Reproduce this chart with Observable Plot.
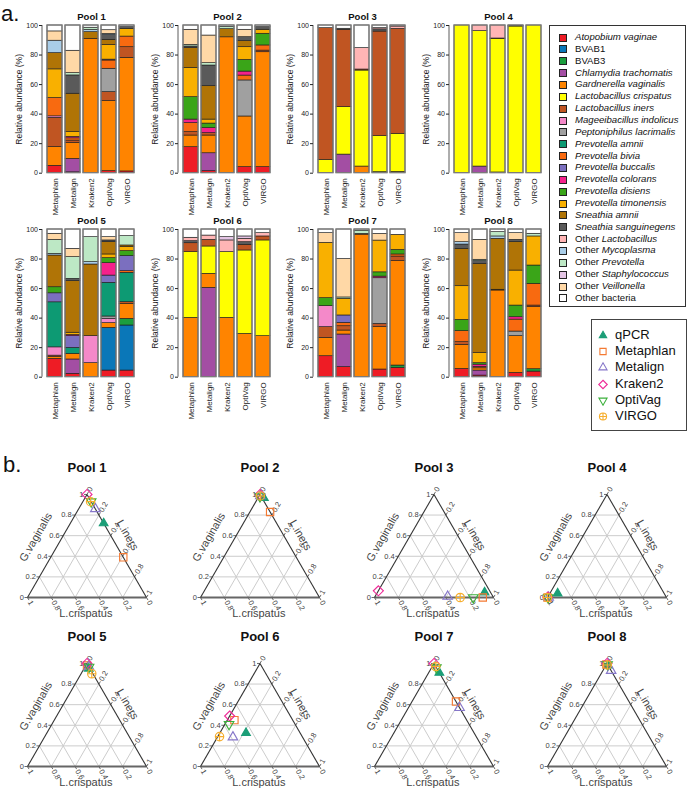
<!DOCTYPE html>
<html><head><meta charset="utf-8">
<script src="https://cdn.jsdelivr.net/npm/d3@7"></script>
<script src="https://cdn.jsdelivr.net/npm/@observablehq/plot@0.6"></script>
<style>
body{margin:0;background:#fff;font-family:'Liberation Sans',Arial,Helvetica,sans-serif;}
#root{position:relative;width:688px;height:788px;overflow:hidden;background:#fff;}
.lg1{position:absolute;left:549px;top:25px;width:137px;height:282px;border:1px solid #333;box-sizing:border-box;}
.lg1 .it{position:absolute;left:0;height:12px;font-size:9.6px;line-height:12px;white-space:nowrap;color:#111;}
.lg1 .sw{position:absolute;left:9px;top:2.5px;width:6px;height:6px;border:1px solid #222;}
.lg1 .tx{position:absolute;left:25px;top:0;}
.lg2{position:absolute;left:591px;top:319px;width:96px;height:112px;border:1px solid #444;box-sizing:border-box;}
.lg2 .it{position:absolute;left:0;height:16px;font-size:13px;line-height:16px;white-space:nowrap;color:#111;}
.lg2 svg{position:absolute;left:5px;top:2px;}
.lg2 .tx{position:absolute;left:23px;top:0;}
.tag{position:absolute;font-size:22px;color:#111;}
</style></head><body><div id="root"></div>
<script>
const FONT = "'Liberation Sans', Arial, Helvetica, sans-serif";

// ---------- data: part a ----------
const tools = ["Metaphlan","Metalign","Kraken2","OptiVag","VIRGO"];
const speciesCodes = ["Av","B1","B3","Ct","Gv","Lc","Li","Mi","Pl","Pa","Pbi","Pbu","Pc","Pd","Pt","Sa","Ss","oL","oM","oP","oS","oV","oB"];
const speciesNames = ["Atopobium vaginae","BVAB1","BVAB3","Chlamydia trachomatis","Gardnerella vaginalis","Lactobacillus crispatus","Lactobacillus iners","Mageeibacillus indolicus","Peptoniphilus lacrimalis","Prevotella amnii","Prevotella bivia","Prevotella buccalis","Prevotella colorans","Prevotella disiens","Prevotella timonensis","Sneathia amnii","Sneathia sanguinegens","Other Lactobacillus","Other Mycoplasma","Other Prevotella","Other Staphylococcus","Other Veillonella","Other bacteria"];
const speciesColors = ["#ee1c25","#0a77b8","#1b9e3e","#a34ea3","#ff8400","#ffff00","#c05522","#f489c9","#a0a0a0","#0d9a73","#f86a10","#7b6fbf","#f5218b","#3aa518","#f9b000","#b07406","#5a5a5a","#ffb5b5","#a9cde8","#bde8c5","#e4c4e4","#ffd8a6","#ffffff"];

// each pool: one list per tool (Metaphlan, Metalign, Kraken2, OptiVag, VIRGO) of [species, %]; "Other bacteria" fills the rest
const pool1 = [
  [["Av",5],["Gv",12.7],["Li",19.8],["Mi",1],["Pbi",12.4],["Pt",19.4],["Sa",11],["oM",8.4],["oV",6.3]],
  [["Av",0.6],["Ct",9.1],["Gv",10.8],["Li",1.6],["Pbi",1.5],["Pc",1],["Pt",3.2],["Sa",26],["Ss",12.4],["oP",1.6],["oV",15.1]],
  [["Gv",91],["Sa",4.5],["oM",1.5],["oP",1.5]],
  [["Av",1.4],["Gv",47.4],["Li",6.1],["Pl",15.8],["Pbi",5.6],["Pbu",0.6],["Pt",10],["Sa",3.4],["Ss",3.2],["oM",0.8],["oV",2.5]],
  [["Av",1.2],["Gv",76.9],["Li",7.2],["Pbi",7.2],["Pt",5.2],["Ss",1.2]]
];
const pool2 = [
  [["Av",17.6],["Gv",7.9],["Li",2.3],["Pbi",6.1],["Pc",2.4],["Pd",15.2],["Pt",19.8],["Sa",13.4],["Ss",1.1],["oP",1.1],["oV",10.2]],
  [["Av",1.4],["Ct",12.1],["Gv",12],["Li",1.6],["Pc",3.4],["Pd",3.1],["Pt",2.7],["Sa",22.6],["Ss",14],["oP",1.6],["oV",18.7]],
  [["Gv",92],["Sa",5.5],["oP",1.5]],
  [["Av",4.1],["Gv",34.3],["Pl",24.4],["Pbi",3.3],["Pc",2.7],["Pd",7.9],["Pt",8.6],["Sa",4.1],["Ss",2.7],["oV",5]],
  [["Av",4.1],["Gv",77.8],["Li",1.1],["Pbi",3.5],["Pd",7.9],["Pt",2.7],["Ss",1.8]]
];
const pool3 = [
  [["Lc",9],["Li",89.2]],
  [["Ct",12.6],["Lc",32.1],["Li",52.4],["Ss",0.7]],
  [["Gv",4.5],["Lc",65],["Li",0.7],["oL",14.5]],
  [["Ct",0.7],["Lc",24.4],["Li",70.8],["Ss",1.5],["oL",0.8]],
  [["Gv",0.9],["Lc",25.7],["Li",71.1],["oL",1.6]]
];
const pool4 = [
  [["Lc",100]],
  [["Ct",4.5],["Lc",91.7],["oL",3.8]],
  [["Gv",0.5],["Lc",90.5],["Li",0.2],["oL",8.8]],
  [["Lc",99.3],["Li",0.5]],
  [["Lc",100]]
];
const pool5 = [
  [["Av",12.4],["Gv",1.2],["Li",1],["Mi",5.6],["Pa",30.5],["Pbu",6.1],["Pd",4.1],["Sa",21.5],["oM",1.1],["oP",9.5],["oV",4.1]],
  [["Av",2.3],["Ct",9.7],["Gv",3.8],["Pa",4],["Pbu",8],["Pc",0.8],["Pt",1.5],["Sa",34.9],["Ss",1.6],["oP",14.7],["oV",5.6]],
  [["Gv",9.5],["Mi",18.3],["Sa",48.5],["oM",1.6],["oP",16.9]],
  [["Av",4.5],["B1",28.9],["Gv",3.2],["Mi",2.9],["Pl",1.6],["Pa",22.8],["Pbu",4.9],["Pc",8.4],["Pd",3.4],["Pt",2.5],["Sa",8.3],["Ss",1.2],["oV",2.2]],
  [["Av",4.5],["B1",30.5],["B3",4.5],["Gv",10.2],["Li",1.1],["Pa",19.9],["Pbi",1.1],["Pbu",10.2],["Pd",3.4],["Pt",2.7],["Sa",1.1],["oP",6.3]]
];
const pool6 = [
  [["Gv",40.2],["Lc",44.5],["Li",6],["Ss",1.4],["oL",2.3]],
  [["Ct",60.5],["Gv",9.5],["Lc",18.5],["Li",4.5],["oL",2.9]],
  [["Gv",40.2],["Lc",44.5],["oL",7.9],["oS",2.2]],
  [["Gv",29.3],["Lc",56.5],["Li",3.8],["Ss",1.8],["oL",2.3],["oS",1.6]],
  [["Gv",27.8],["Lc",64.8],["Li",2.7],["oL",2.2]]
];
const pool7 = [
  [["Av",14.2],["Gv",12.4],["Li",7.3],["Mi",14.2],["Pd",5.4],["Pt",37.5],["oV",6.5]],
  [["Av",6.8],["Ct",22.1],["Gv",2.7],["Li",2.9],["Pbi",2.3],["Pbu",5],["Pt",11.3],["oP",0.9],["oV",26]],
  [["Gv",96.5],["Li",0.5],["oP",2.2]],
  [["Av",5.2],["Gv",28.7],["Li",2.2],["Pl",30.9],["Pc",1.1],["Pd",2.9],["Pt",21.5],["oV",4.5]],
  [["Av",6.3],["B3",1.6],["Gv",70.7],["Li",3.1],["Pbi",1.4],["Pd",3.1],["Pt",10.2]]
];
const pool8 = [
  [["Av",5.6],["Gv",16.3],["Li",1.8],["Pbi",7.5],["Pd",7.6],["Pt",22.8],["Sa",25.3],["Ss",2.9],["oM",1.6],["oV",6.1]],
  [["Av",1.1],["Ct",3.4],["Gv",1.5],["Li",1],["Pc",1.5],["Pd",1],["Pt",6.8],["Sa",60.4],["Ss",1.9],["oP",0.9],["oV",13.5]],
  [["Gv",58.7],["Li",0.5],["Sa",34.5],["oM",1.6],["oP",2.9]],
  [["Av",2.9],["Gv",24.9],["Pl",3.1],["Pbi",8.1],["Pc",1.6],["Pd",7.9],["Pt",23.7],["Sa",19.2],["Ss",1.6],["oV",4.5]],
  [["Av",3.8],["B3",1.6],["Gv",42],["Li",1.1],["Pbi",14.7],["Pd",12.4],["Pt",19.7],["oP",1.8]]
];
const pools = [pool1,pool2,pool3,pool4,pool5,pool6,pool7,pool8];
const poolTitles = ["Pool 1","Pool 2","Pool 3","Pool 4","Pool 5","Pool 6","Pool 7","Pool 8"];

// ---------- data: part b (fractions of G.vaginalis and L.iners; L.crispatus is the remainder) ----------
const methods = ["qPCR","Metaphlan","Metalign","Kraken2","OptiVag","VIRGO"];
const methodColors = ["#1b9e77","#f47a33","#8677c9","#ee2a97","#3bb03b","#f6ae2d"];
const gvQPCR      = [0.72, 0.965, 0.05, 0.04, 0.95, 0.325, 0.91, 0.98];
const liQPCR      = [0.28, 0.05, 0.90, 0.065, 0.04, 0.22, 0.09, 0.02];
const gvMetaphlan = [0.39, 0.83, 0.0, 0.0, 0.98, 0.45, 0.63, 0.99];
const liMetaphlan = [0.61, 0.17, 0.91, 0.0, 0.01, 0.06, 0.37, 0.0];
const gvMetalign  = [0.86, 0.985, 0.01, 0.0, 0.97, 0.285, 0.57, 0.93];
const liMetalign  = [0.14, 0.01, 0.61, 0.01, 0.03, 0.13, 0.43, 0.07];
const gvKraken2   = [1.0, 1.0, 0.065, 0.005, 1.0, 0.49, 1.0, 1.0];
const liKraken2   = [0, 0, 0, 0, 0, 0, 0, 0];
const gvOptiVag   = [0.93, 0.98, 0.0, 0.0, 0.965, 0.41, 0.96, 0.99];
const liOptiVag   = [0.07, 0.01, 0.83, 0.005, 0.035, 0.035, 0.04, 0.01];
const gvVIRGO     = [0.93, 0.985, 0.0, 0.0, 0.90, 0.29, 0.97, 0.985];
const liVIRGO     = [0.065, 0.01, 0.72, 0.0, 0.09, 0.015, 0.03, 0.01];
const gvByMethod = [gvQPCR,gvMetaphlan,gvMetalign,gvKraken2,gvOptiVag,gvVIRGO];
const liByMethod = [liQPCR,liMetaphlan,liMetalign,liKraken2,liOptiVag,liVIRGO];
const ternTicks = [0,0.2,0.4,0.6,0.8,1];

// ---------- symbols ----------
const symSquare = {draw(c,s){const r=Math.sqrt(s/Math.PI)*0.85;c.moveTo(-r,-r);c.lineTo(r,-r);c.lineTo(r,r);c.lineTo(-r,r);c.closePath();}};
const symTriUp = {draw(c,s){const r=Math.sqrt(s/Math.PI);c.moveTo(0,-r);c.lineTo(r*0.866,r*0.5);c.lineTo(-r*0.866,r*0.5);c.closePath();}};
const symTriDown = {draw(c,s){const r=Math.sqrt(s/Math.PI);c.moveTo(0,r);c.lineTo(r*0.866,-r*0.5);c.lineTo(-r*0.866,-r*0.5);c.closePath();}};
const symDiamond = {draw(c,s){const r=Math.sqrt(s/Math.PI);c.moveTo(0,-r);c.lineTo(r,0);c.lineTo(0,r);c.lineTo(-r,0);c.closePath();}};
const symCircleCross = {draw(c,s){const r=Math.sqrt(s/Math.PI);c.moveTo(r,0);c.arc(0,0,r,0,2*Math.PI);c.moveTo(-r,0);c.lineTo(r,0);c.moveTo(0,-r);c.lineTo(0,r);}};
const methodSymbols = [symTriUp,symSquare,symTriUp,symDiamond,symTriDown,symCircleCross];
const methodR = [5,4.3,5.5,5,5.5,4.2];
const methodFilled = [true,false,false,false,false,false];

const root = document.getElementById("root");
function place(node, left, top){node.style.position="absolute";node.style.left=left+"px";node.style.top=top+"px";root.appendChild(node);}
const spIndex = Object.fromEntries(speciesCodes.map((c,i)=>[c,i]));

// ---------- part a panels ----------
function barPanel(title, comp, col, row){
  const rows = [];
  comp.forEach((list, ti) => {
    const sorted = list.slice().sort((a,b)=>spIndex[a[0]]-spIndex[b[0]]);
    let sum = 0;
    for (const [sp,v] of sorted){rows.push({tool:tools[ti], sp, v}); sum += v;}
    if (sum < 100) rows.push({tool:tools[ti], sp:"oB", v:100-sum});
  });
  const H = 222, yb = 172.7;
  const svg = Plot.plot({
    width: 140, height: H, marginTop: 25, marginBottom: H - yb, marginLeft: 42, marginRight: 0,
    style: {fontFamily: FONT, background: "transparent", overflow: "visible", color: "#222"},
    x: {domain: tools, padding: 0.16},
    y: {domain: [0,100]},
    color: {domain: speciesCodes, range: speciesColors},
    marks: [
      Plot.barY(rows, {x:"tool", y:"v", fill:"sp", stroke:"#1a1a1a", strokeWidth:0.6}),
      Plot.barY(tools, {x:d=>d, y:()=>100, fill:"none", stroke:"#7d7d7d", strokeWidth:1.3}),
      Plot.axisY({ticks:[0,20,40,60,80,100], tickSize:3, tickPadding:1.5, fontSize:7, label:null}),
      Plot.axisX({tickRotate:-90, tickSize:0, tickPadding:5, fontSize:8, label:null}),
      (index, scales) => {
        const l = document.createElementNS("http://www.w3.org/2000/svg","line");
        l.setAttribute("x1",42);l.setAttribute("x2",42);
        l.setAttribute("y1",scales.y(0));l.setAttribute("y2",scales.y(100));
        l.setAttribute("stroke","#333");l.setAttribute("stroke-width","0.8");
        return l;
      },
      Plot.text(["Relative abundance (%)"], {frameAnchor:"left", textAnchor:"middle", lineAnchor:"middle", dx:-23, rotate:-90, fontSize:8.5, fill:"#222"}),
      Plot.text([title], {frameAnchor:"top", textAnchor:"middle", lineAnchor:"middle", dy:-9, fontWeight:"bold", fontSize:9.5, fill:"#111"})
    ]
  });
  place(svg, col*135.7, row*204);
}
pools.forEach((p,i)=>barPanel(poolTitles[i], p, i%4, Math.floor(i/4)));

// ---------- legend 1 ----------
const lg1 = document.createElement("div"); lg1.className = "lg1";
speciesNames.forEach((name,i)=>{
  const it = document.createElement("div"); it.className="it"; it.style.top = (5 + i*11.86) + "px";
  const sw = document.createElement("div"); sw.className="sw"; sw.style.background = speciesColors[i];
  const tx = document.createElement("div"); tx.className="tx";
  if (name.startsWith("BVAB") || name === "Other bacteria") tx.textContent = name;
  else if (name.startsWith("Other ")) { tx.append("Other "); const e=document.createElement("i"); e.textContent=name.slice(6); tx.append(e); }
  else { const e=document.createElement("i"); e.textContent=name; tx.append(e); }
  it.append(sw, tx); lg1.append(it);
});
root.append(lg1);

// ---------- legend 2 ----------
const lg2 = document.createElement("div"); lg2.className = "lg2";
methods.forEach((m,i)=>{
  const it = document.createElement("div"); it.className="it"; it.style.top = (7 + i*16.2) + "px";
  const s = d3.create("svg").attr("width",12).attr("height",12);
  s.append("path").attr("transform","translate(6,6.5)")
    .attr("d", d3.symbol(methodSymbols[i], Math.PI*Math.pow(methodR[i]*0.85,2))())
    .attr("fill", methodFilled[i] ? methodColors[i] : "none")
    .attr("stroke", methodColors[i]).attr("stroke-width",1.1);
  const tx = document.createElement("div"); tx.className="tx"; tx.textContent = m;
  it.append(s.node(), tx); lg2.append(it);
});
root.append(lg2);

// ---------- part b ternary panels ----------
const S3 = Math.sqrt(3)/2;
const T = (gv, li) => ({x: li + gv/2, y: gv*S3});
const fmt = t => t===0 ? "0" : t===1 ? "1" : String(t);
function ternPanel(title, p, col, row){
  const bx = 27, by = 140, side = 119, W = 178, H = 175;
  const inner = [0.2,0.4,0.6,0.8];
  const grid = [];
  for (const t of inner){
    const a1=T(t,0), a2=T(t,1-t); grid.push({x1:a1.x,y1:a1.y,x2:a2.x,y2:a2.y});
    const b1=T(0,t), b2=T(1-t,t); grid.push({x1:b1.x,y1:b1.y,x2:b2.x,y2:b2.y});
    const c1=T(0,1-t), c2=T(1-t,0); grid.push({x1:c1.x,y1:c1.y,x2:c2.x,y2:c2.y});
  }
  const BL=T(0,0), BR=T(0,1), TOP=T(1,0);
  const sideEdges = [{x1:BL.x,y1:BL.y,x2:TOP.x,y2:TOP.y},{x1:BR.x,y1:BR.y,x2:TOP.x,y2:TOP.y}];
  const baseEdge = [{x1:BL.x,y1:BL.y,x2:BR.x,y2:BR.y}];
  const k = 3/side;
  const tickSegs = [];
  const gvLab = [], liLab = [], lcLab = [];
  for (const t of ternTicks){
    const g=T(t,0); tickSegs.push({x1:g.x,y1:g.y,x2:g.x-k,y2:g.y}); gvLab.push({...g, s:fmt(t)});
    const l=T(1-t,t); tickSegs.push({x1:l.x,y1:l.y,x2:l.x+0.5*k,y2:l.y+S3*k}); liLab.push({...l, s:fmt(t)});
    const c=T(0,1-t); tickSegs.push({x1:c.x,y1:c.y,x2:c.x+0.5*k,y2:c.y-S3*k}); lcLab.push({...c, s:fmt(t)});
  }
  const dotMarks = methods.map((m,mi)=>{
    const gv = gvByMethod[mi][p], li = liByMethod[mi][p];
    return Plot.dot([T(gv, li)], {x:"x", y:"y", symbol: methodSymbols[mi], r: methodR[mi],
      stroke: methodColors[mi], fill: methodFilled[mi] ? methodColors[mi] : "none", strokeWidth: 1.15});
  });
  const svg = Plot.plot({
    width: W, height: H, margin: 0,
    style: {fontFamily: FONT, background: "transparent", overflow: "visible"},
    x: {domain:[0,1], range:[bx, bx+side], axis:null},
    y: {domain:[0,S3], range:[by, by-side*S3], axis:null},
    marks: [
      Plot.link(grid, {x1:"x1",y1:"y1",x2:"x2",y2:"y2", stroke:"#cccccc", strokeWidth:1}),
      Plot.link(tickSegs, {x1:"x1",y1:"y1",x2:"x2",y2:"y2", stroke:"#444", strokeWidth:0.8}),
      Plot.link(baseEdge, {x1:"x1",y1:"y1",x2:"x2",y2:"y2", stroke:"#666", strokeWidth:1.8}),
      Plot.link(sideEdges, {x1:"x1",y1:"y1",x2:"x2",y2:"y2", stroke:"#333", strokeWidth:1.1}),
      Plot.text(gvLab, {x:"x", y:"y", text:"s", textAnchor:"end", dx:-3.5, fontSize:7.5, fill:"#444"}),
      Plot.text(liLab, {x:"x", y:"y", text:"s", textAnchor:"start", rotate:-60, dx:2, dy:-3.5, fontSize:7.5, fill:"#444"}),
      Plot.text(lcLab, {x:"x", y:"y", text:"s", textAnchor:"start", rotate:60, dx:2, dy:3.5, fontSize:7.5, fill:"#444"}),
      Plot.text([{x:0.07, y:0.507, s:"G.vaginalis"}], {x:"x", y:"y", text:"s", rotate:-60, fontSize:11, fill:"#444"}),
      Plot.text([{x:0.84, y:0.524, s:"L.iners"}], {x:"x", y:"y", text:"s", rotate:60, fontSize:11, fill:"#444"}),
      Plot.text([{x:0.49, y:-0.13, s:"L.crispatus"}], {x:"x", y:"y", text:"s", fontSize:11, fill:"#444"}),
      ...dotMarks,
      Plot.text([{x:0.5, y:(by-10)/side, s:title}], {x:"x", y:"y", text:"s", fontSize:13, fontWeight:"bold", fill:"#111"})
    ]
  });
  place(svg, 26.7 + col*173.5 - bx, (row===0 ? 597.3 : 766) - by);
}
for (let i=0;i<8;i++) ternPanel(poolTitles[i], i, i%4, Math.floor(i/4));

// ---------- panel tags ----------
const ta = document.createElement("div"); ta.className="tag"; ta.textContent="a."; ta.style.left="1px"; ta.style.top="1px"; root.append(ta);
const tb = document.createElement("div"); tb.className="tag"; tb.textContent="b."; tb.style.left="3px"; tb.style.top="452px"; root.append(tb);
</script></body></html>
